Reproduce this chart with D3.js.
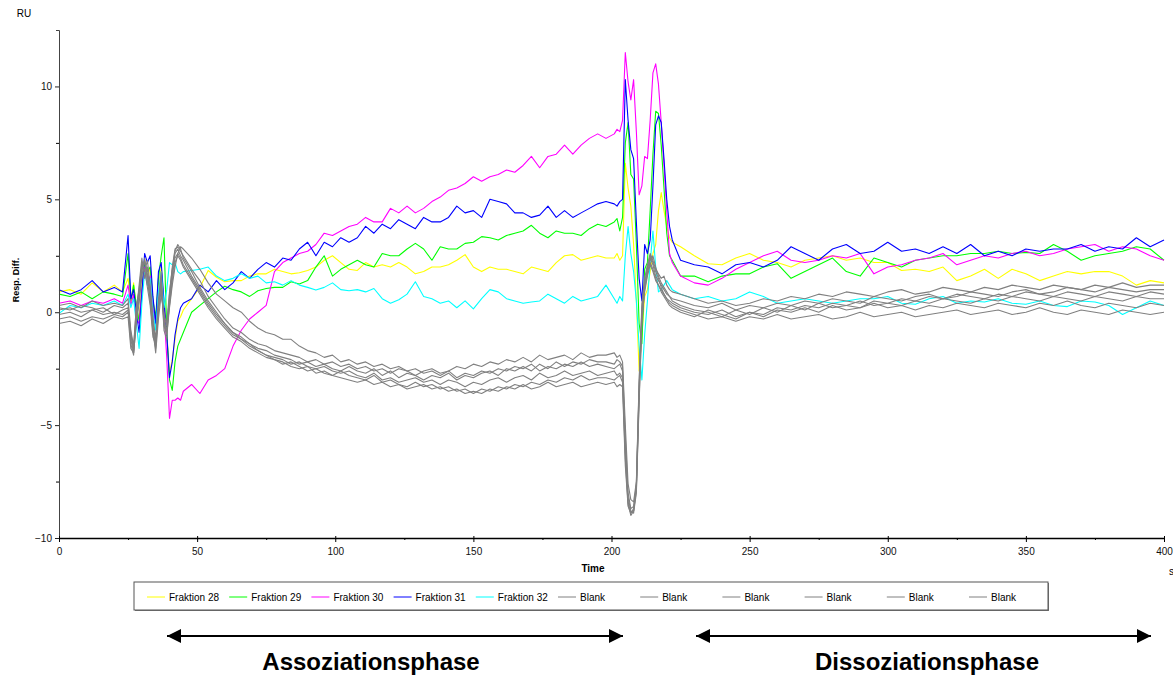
<!DOCTYPE html>
<html>
<head>
<meta charset="utf-8">
<script src="https://cdn.jsdelivr.net/npm/d3@7"></script>
<style>
  body { margin:0; background:#fff; }
  text { font-family: "Liberation Sans", Arial, sans-serif; }
</style>
</head>
<body>
<script>
// sensorgram, RU vs time (s)

var time = [0,4,8,12,16,20,23,
  25,26,27,28,29,30,31,32,33,34,35,36,37,38,39,40,41,42,43,44,45,
  48,51,54,57,60,63,66,69,72,75, 78,81,84,87,90,93,96,99,102,105,
  108,111,114,117,120,123,126,129,132,135, 138,141,144,147,150,153,156,159,162,165,
  168,171,174,177,180,183,186,189,192,195, 198,
  201,202,203,204,205,206,207,208,209,210,211,212,213,214,215,216,217,218,219,220,221,222,
  225,230,235,240,245,250,255,260,265,270, 275,280,285,290,295,300,305,310,315,320,
  325,330,335,340,345,350,355,360,365,370, 375,380,385,390,395,400];

var fraktion28 = [0.9,1.0,0.8,1.3,0.9,1.2,0.9,
  1.5,0.4,1.3,0.2,-0.3,1.2,2.3,1.5,2.0,0.4,-0.3,1.2,2.0,0.5,-1.0,-2.7,-2.1,-1.2,-0.4,-0.2,0.1,
  0.6,1.1,1.85,1.55,1.35,1.4,1.4,1.6,1.7,1.7, 1.9,1.8,1.7,1.75,1.85,2.0,2.3,2.5,2.2,1.9,
  1.85,2.2,2.0,2.1,2.0,2.2,2.0,1.7,1.8,2.0, 2.0,2.1,2.3,2.55,2.0,1.8,2.0,1.9,1.9,1.8,
  1.7,2.0,1.9,1.8,2.2,2.5,2.55,2.3,2.4,2.5, 2.4,
  2.4,2.6,2.3,2.5,6.6,5.5,4.7,3.0,0.5,-2.6,-1.0,0.7,1.0,1.8,2.6,3.0,4.5,5.3,4.5,3.8,3.3,3.1,
  2.9,2.5,2.15,2.1,2.4,2.6,2.3,2.2,2.0,2.3, 2.4,2.5,2.3,2.4,2.2,2.2,1.85,1.9,1.8,2.0,
  1.4,1.6,1.9,1.5,1.9,1.7,1.4,1.6,1.8,1.7, 1.8,1.8,1.6,1.2,1.4,1.3];

var fraktion29 = [0.8,0.7,0.9,0.6,0.9,0.8,0.7,
  2.6,0.5,1.2,0.3,-0.4,0.9,2.2,1.8,2.0,0.5,-0.2,1.5,2.5,3.3,-0.8,-3.0,-3.46,-2.2,-1.5,-1.2,-0.9,
  0.0,0.3,0.6,0.9,1.15,1.0,0.9,0.7,0.95,1.05, 1.1,1.1,1.35,1.25,1.4,2.0,2.5,1.6,1.9,2.1,
  2.3,2.1,2.0,2.6,2.5,2.5,2.8,3.05,2.8,2.3, 2.9,2.8,2.8,3.05,3.1,3.35,3.3,3.2,3.4,3.5,
  3.6,3.85,3.5,3.3,3.6,3.5,3.5,3.4,3.7,3.9, 3.8,
  4.0,4.15,3.6,4.2,7.5,8.4,6.1,5.9,3.0,-0.5,-1.4,1.9,2.2,4.5,7.0,8.9,8.8,7.4,5.5,3.5,2.5,2.3,
  1.6,1.6,1.35,1.6,1.7,1.7,2.0,2.15,1.5,1.8, 2.1,2.4,1.8,1.6,2.4,2.2,2.0,2.3,2.4,2.5,
  2.5,2.6,2.6,2.7,2.6,2.65,2.6,3.0,2.7,2.3, 2.5,2.6,2.7,2.9,2.8,2.3];

var fraktion30 = [0.4,0.5,0.3,0.5,0.4,0.6,0.4,
  1.2,0.3,0.8,-0.3,-0.5,1.0,2.0,1.2,1.6,0.2,-0.6,0.8,1.5,0.0,-2.0,-4.7,-3.9,-3.9,-3.8,-3.9,-3.5,
  -3.2,-3.6,-3.0,-2.8,-2.5,-1.5,-0.8,-0.3,0.0,0.3, 1.8,2.2,2.4,2.6,2.7,3.0,3.5,3.4,3.6,3.8,
  3.9,4.2,4.0,4.0,4.6,4.4,4.7,4.4,4.6,4.9, 5.1,5.4,5.5,5.7,6.0,5.8,6.0,6.1,6.3,6.2,
  6.5,6.9,6.4,6.9,7.0,7.4,7.0,7.4,7.7,7.9, 7.7,
  7.9,8.1,8.0,8.5,11.5,10.2,9.4,10.3,8.0,5.2,5.6,6.9,6.8,8.5,10.6,11.0,10.1,8.4,6.5,4.5,2.6,2.2,
  1.6,1.3,1.2,1.5,1.9,2.2,2.5,2.7,2.3,2.2, 2.3,2.5,2.4,2.6,1.7,2.0,2.1,2.3,2.4,2.6,
  2.1,2.3,2.5,2.4,2.6,2.7,2.5,2.6,2.8,2.9, 3.0,2.7,2.9,2.8,2.5,2.3];

var fraktion31 = [1.0,0.8,1.0,1.4,0.9,1.1,0.9,
  3.4,0.6,1.0,0.0,-0.9,0.8,2.6,2.2,2.5,0.7,-0.5,1.8,2.2,0.5,-1.0,-2.9,-2.2,-1.0,-0.3,0.2,0.4,
  0.6,1.2,0.9,1.4,1.0,1.3,1.8,1.5,1.9,2.2, 2.0,2.4,2.3,2.8,3.1,2.5,3.1,2.9,3.3,3.1,
  3.3,3.8,3.5,3.9,3.7,4.1,3.9,3.7,4.2,4.0, 4.0,4.2,4.7,4.4,4.5,4.2,5.0,4.9,4.8,4.4,
  4.4,4.2,4.3,4.7,4.2,4.5,4.2,4.4,4.6,4.8, 4.9,
  4.8,4.7,4.9,5.0,10.3,8.5,7.2,6.8,4.0,1.5,0.5,3.0,2.6,3.2,5.6,8.3,8.7,8.4,6.8,5.0,3.8,3.2,
  2.3,2.1,2.0,1.7,2.1,2.2,2.0,2.3,2.9,2.6, 2.3,2.8,3.0,2.6,2.7,3.1,2.7,2.8,2.6,2.9,
  2.6,3.0,2.5,2.7,2.5,2.8,2.7,2.8,2.8,3.0, 2.7,2.9,2.8,3.3,2.9,3.2];

var fraktion32 = [-0.05,0.3,0.2,0.4,0.3,0.5,0.3,
  0.8,0.2,0.6,-0.5,-1.6,0.4,1.8,1.2,1.5,0.0,-0.8,0.9,1.8,0.2,1.0,2.2,2.1,2.2,1.8,1.7,1.8,
  1.85,1.9,2.0,1.6,1.4,1.5,1.7,1.5,1.6,1.3, 1.35,1.2,1.4,1.2,1.1,0.98,1.1,1.3,1.0,0.95,
  1.0,0.9,1.05,0.6,0.4,0.55,0.8,1.35,0.7,0.6, 0.4,0.5,0.2,0.5,0.15,0.6,1.0,0.9,0.6,0.5,
  0.4,0.45,0.5,0.8,0.6,0.4,0.7,0.5,0.6,0.7, 1.2,
  0.6,0.4,0.7,0.5,2.5,3.8,2.6,1.8,0.5,-1.5,-3.0,-1.0,0.5,2.2,3.6,2.0,0.9,1.0,1.2,1.4,1.2,1.0,
  0.8,0.6,0.7,0.5,0.6,0.9,0.7,0.4,0.5,0.6, 0.5,0.4,0.5,0.6,0.6,0.7,0.4,0.35,0.6,0.7,
  0.4,0.5,0.45,0.6,0.4,0.35,0.5,0.3,0.25,0.5, 0.45,0.3,-0.1,0.2,0.5,0.3];

var blank1 = [0.3,0.4,0.2,0.5,0.3,0.4,0.3,
  0.6,-0.8,-1.5,0.3,1.0,2.2,1.8,2.3,1.2,-0.2,-1.2,0.5,1.8,-0.5,-0.9,0.8,2.0,2.8,2.9,2.7,2.5,
  1.9,1.4,0.7,0.2,-0.3,-0.7,-0.9,-1.2,-1.4,-1.5, -1.7,-1.8,-1.9,-2.0,-2.2,-2.1,-2.3,-2.2,-2.4,-2.3,
  -2.5,-2.4,-2.6,-2.5,-2.7,-2.5,-2.6,-2.8,-2.6,-2.5, -2.7,-2.6,-2.4,-2.5,-2.3,-2.4,-2.2,-2.3,-2.1,-2.2,
  -2.0,-2.2,-1.9,-2.1,-2.0,-1.9,-2.1,-1.8,-2.0,-1.9, -1.9,
  -1.8,-2.0,-1.9,-2.2,-5.0,-7.6,-8.3,-8.4,-7.5,-3.0,0.4,1.5,2.1,2.6,2.3,1.9,1.7,1.5,1.6,1.2,1.0,0.9,
  0.8,0.6,0.4,0.5,0.3,0.4,0.6,0.5,0.7,0.6, 0.8,0.7,0.9,0.8,0.7,0.9,1.0,0.8,0.9,1.1,
  1.0,0.9,1.1,1.0,1.2,1.1,1.0,1.2,1.1,1.0, 1.2,1.1,1.3,1.1,1.2,1.2];

var blank2 = [0.2,0.1,0.3,0.2,0.0,0.3,0.2,
  0.4,-1.2,-1.8,0.0,1.2,2.4,1.5,2.0,0.8,-0.6,-1.5,0.2,1.5,-0.8,-1.2,0.5,1.8,2.6,2.8,2.5,2.3,
  1.6,1.0,0.4,-0.1,-0.5,-0.9,-1.1,-1.4,-1.6,-1.7, -1.9,-2.0,-2.1,-2.3,-2.2,-2.4,-2.3,-2.5,-2.6,-2.4,
  -2.6,-2.7,-2.5,-2.8,-2.6,-2.9,-2.7,-2.8,-3.0,-2.8, -2.9,-2.7,-3.0,-2.8,-2.9,-2.7,-2.6,-2.8,-2.5,-2.6,
  -2.4,-2.6,-2.3,-2.5,-2.2,-2.4,-2.2,-2.3,-2.1,-2.2, -2.2,
  -2.3,-2.1,-2.2,-2.4,-5.5,-8.0,-8.7,-8.6,-7.8,-3.5,0.0,1.2,1.9,2.4,2.1,1.6,1.4,1.2,1.0,0.8,0.7,0.6,
  0.5,0.3,0.2,0.4,0.1,0.3,0.2,0.4,0.3,0.5, 0.4,0.6,0.5,0.4,0.7,0.6,0.5,0.7,0.8,0.6,
  0.7,0.9,0.8,0.7,0.9,1.0,0.8,0.9,1.1,1.0, 0.9,1.1,1.0,0.9,1.0,1.0];

var blank3 = [0.1,0.2,0.0,0.1,0.2,-0.1,0.1,
  0.2,-0.9,-1.6,0.2,0.9,2.0,2.2,1.7,1.0,-0.4,-1.3,0.4,1.2,-0.6,-1.0,0.2,1.2,2.0,2.6,2.9,2.8,
  2.4,1.9,1.3,0.8,0.5,0.2,0.0,-0.4,-0.7,-0.9, -1.0,-1.2,-1.2,-1.5,-1.7,-1.8,-2.0,-1.9,-2.2,-2.1,
  -2.3,-2.2,-2.4,-2.3,-2.5,-2.4,-2.6,-2.5,-2.7,-2.6, -2.8,-2.6,-2.9,-2.7,-2.8,-2.6,-2.7,-2.5,-2.6,-2.4,
  -2.5,-2.3,-2.6,-2.4,-2.5,-2.3,-2.4,-2.2,-2.4,-2.3, -2.4,
  -2.5,-2.4,-2.3,-2.6,-6.0,-8.2,-8.8,-8.9,-8.0,-4.0,-0.5,1.0,1.7,2.3,2.5,2.0,1.6,1.3,1.1,0.9,0.7,0.5,
  0.3,0.1,0.0,-0.2,0.1,-0.1,0.2,0.0,0.3,0.1, 0.4,0.2,0.3,0.5,0.3,0.4,0.6,0.5,0.7,0.6,
  0.8,0.7,0.6,0.8,0.7,0.9,0.8,0.7,0.9,0.8, 0.7,0.9,0.8,0.7,0.9,0.8];

var blank4 = [-0.1,0.0,-0.2,0.1,-0.1,0.0,-0.1,
  0.1,-1.4,-1.9,-0.3,0.6,1.8,2.4,1.4,0.5,-0.9,-1.6,0.0,1.0,-0.2,-0.6,0.6,1.6,2.4,2.6,2.4,2.1,
  1.5,0.9,0.3,-0.2,-0.6,-1.0,-1.2,-1.5,-1.7,-1.9, -2.0,-2.1,-2.3,-2.2,-2.4,-2.5,-2.4,-2.6,-2.7,-2.6,
  -2.8,-2.9,-2.7,-3.0,-2.9,-3.1,-3.0,-2.9,-3.1,-3.0, -3.2,-3.0,-3.1,-3.3,-3.1,-3.2,-3.0,-2.9,-3.1,-2.9,
  -2.8,-3.0,-2.7,-2.9,-2.8,-2.6,-2.8,-2.7,-2.6,-2.8, -2.7,
  -2.6,-2.8,-2.7,-2.9,-6.2,-8.4,-8.9,-8.8,-7.9,-3.8,-0.3,0.9,1.6,2.1,1.8,1.4,1.2,1.0,0.8,0.6,0.5,0.4,
  0.2,0.0,-0.1,0.1,-0.2,0.0,-0.1,0.2,0.1,0.3, 0.2,0.4,0.3,0.2,0.5,0.4,0.3,0.5,0.4,0.6,
  0.5,0.4,0.6,0.5,0.7,0.6,0.5,0.7,0.6,0.5, 0.7,0.6,0.5,0.7,0.6,0.6];

var blank5 = [-0.3,-0.2,-0.4,-0.2,-0.3,-0.1,-0.2,
  0.0,-1.0,-1.7,-0.1,0.8,2.1,1.9,1.1,0.3,-1.1,-1.4,0.3,1.3,-0.4,-0.8,0.3,1.4,2.2,2.5,2.3,2.0,
  1.4,0.8,0.2,-0.3,-0.7,-1.1,-1.3,-1.6,-1.8,-2.0, -2.1,-2.3,-2.2,-2.4,-2.6,-2.5,-2.7,-2.8,-2.6,-2.8,
  -2.9,-3.0,-2.8,-3.1,-3.0,-3.2,-3.3,-3.1,-3.3,-3.2, -3.4,-3.3,-3.5,-3.4,-3.6,-3.4,-3.5,-3.3,-3.4,-3.2,
  -3.3,-3.1,-3.2,-3.0,-3.1,-2.9,-3.0,-2.8,-3.0,-2.9, -2.9,
  -3.0,-2.9,-2.8,-3.1,-6.5,-8.5,-9.0,-8.8,-7.7,-3.4,-0.2,1.1,1.8,2.2,1.9,1.5,1.2,0.9,0.7,0.5,0.3,0.2,
  0.0,-0.2,0.1,-0.1,-0.3,0.0,-0.2,0.1,0.0,0.2, 0.0,0.3,0.1,0.2,0.4,0.2,0.3,0.1,0.3,0.2,
  0.4,0.3,0.2,0.4,0.3,0.2,0.4,0.3,0.5,0.3, 0.2,0.4,0.3,0.2,0.4,0.3];

var blank6 = [-0.5,-0.4,-0.6,-0.3,-0.5,-0.2,-0.3,
  -0.2,-1.6,-1.8,-0.5,0.4,1.6,2.3,1.6,0.6,-0.8,-1.8,-0.3,0.8,-0.1,-0.5,0.9,1.9,2.7,3.0,2.8,2.4,
  1.8,1.1,0.5,0.0,-0.5,-0.9,-1.2,-1.4,-1.7,-1.9, -2.1,-2.2,-2.4,-2.5,-2.4,-2.7,-2.6,-2.8,-2.9,-3.0,
  -3.1,-3.0,-3.2,-3.1,-3.3,-3.2,-3.4,-3.3,-3.2,-3.4, -3.3,-3.5,-3.4,-3.6,-3.5,-3.6,-3.4,-3.5,-3.3,-3.4,
  -3.2,-3.4,-3.3,-3.1,-3.3,-3.2,-3.1,-3.3,-3.2,-3.1, -3.2,
  -3.1,-3.3,-3.2,-3.3,-6.8,-8.6,-8.9,-8.7,-7.6,-3.2,0.2,1.3,2.0,2.5,2.2,1.8,1.5,1.1,0.8,0.6,0.4,0.3,
  0.1,-0.1,-0.3,-0.2,-0.4,-0.2,-0.3,-0.1,-0.3,-0.2, -0.1,-0.3,-0.2,0.0,-0.2,-0.1,0.0,-0.2,-0.1,0.0,
  0.1,-0.1,0.0,0.1,-0.1,0.0,0.2,0.0,-0.1,0.1, 0.0,-0.1,0.1,0.0,-0.1,0.0];

var seriesNames = ['Fraktion 28','Fraktion 29','Fraktion 30','Fraktion 31','Fraktion 32',
  'Blank','Blank','Blank','Blank','Blank','Blank'];
var seriesValues = [fraktion28, fraktion29, fraktion30, fraktion31, fraktion32,
  blank1, blank2, blank3, blank4, blank5, blank6];
var seriesColors = ['#ffff00','#00ff00','#ff00ff','#0000ff','#00ffff',
  '#808080','#808080','#808080','#808080','#808080','#808080'];

var xTicks = [0,50,100,150,200,250,300,350,400];
var xMinor = [25,75,125,175,225,275,325,375];
var yTicks = [-10,-5,0,5,10];
var yMinor = [-7.5,-2.5,2.5,7.5];

var W = 1173, H = 677;
var svg = d3.select('body').append('svg').attr('width',W).attr('height',H);

var x = d3.scaleLinear().domain([0,400]).range([59,1164]);
var y = d3.scaleLinear().domain([-10,12.5]).range([538,30]);

// series
var line = d3.line().x(function(d){return x(d[0])}).y(function(d){return y(d[1])});
var plot = svg.append('g').attr('class','plot');
seriesValues.forEach(function(vals,i){
  if (vals.length !== time.length) console.warn(seriesNames[i], vals.length, time.length);
  var pts = vals.map(function(v,j){return [time[j], v]}).filter(function(d){return d[0]!==undefined});
  plot.append('path').datum(pts)
    .attr('d',line).attr('fill','none')
    .attr('stroke',seriesColors[i]).attr('stroke-width',1.1)
    .attr('stroke-linejoin','round');
});

// y axis
var yAxis = svg.append('g').attr('transform','translate(59,0)')
  .call(d3.axisLeft(y).tickValues(yTicks).tickSizeInner(4).tickSizeOuter(3).tickPadding(3));
yAxis.select('.domain').attr('stroke','#444');
yAxis.selectAll('.tick line').attr('stroke','#222');
yAxis.selectAll('text').style('font-size','10px').attr('fill','#111');
svg.append('g').attr('transform','translate(59,0)')
  .call(d3.axisLeft(y).tickValues(yMinor).tickSize(3).tickFormat(''))
  .select('.domain').remove();

// x axis
var xAxis = svg.append('g').attr('transform','translate(0,538)')
  .call(d3.axisBottom(x).tickValues(xTicks).tickSizeInner(4).tickSizeOuter(0).tickPadding(6));
xAxis.select('.domain').attr('stroke','#000').attr('stroke-width',1.3);
xAxis.selectAll('.tick line').attr('y1',-2);
xAxis.selectAll('text').style('font-size','10px').attr('fill','#111');
svg.append('g').attr('transform','translate(0,538)')
  .call(d3.axisBottom(x).tickValues(xMinor).tickSize(2).tickFormat(''))
  .select('.domain').remove();

// axis labels
svg.append('text').attr('x',24).attr('y',17).attr('text-anchor','middle')
  .style('font-size','10px').text('RU');
svg.append('text').attr('transform','translate(19,280) rotate(-90)')
  .attr('text-anchor','middle').style('font-size','9px').style('font-weight','bold')
  .text('Resp. Diff.');
svg.append('text').attr('x',593).attr('y',572).attr('text-anchor','middle')
  .style('font-size','10px').style('font-weight','bold').text('Time');
svg.append('text').attr('x',1169).attr('y',575)
  .style('font-size','10px').text('s');

// legend
var legend = svg.append('g');
legend.append('rect').attr('x',135).attr('y',583).attr('width',914).attr('height',28)
  .attr('fill','#777');
legend.append('rect').attr('x',134).attr('y',582).attr('width',914).attr('height',28)
  .attr('fill','#fff').attr('stroke','#555').attr('stroke-width',1);
var items = legend.selectAll('.item').data(seriesNames).enter().append('g')
  .attr('class','item')
  .attr('transform',function(d,i){return 'translate('+(147+i*82.2)+',597)'});
items.append('line').attr('x1',0).attr('x2',18).attr('y1',0).attr('y2',0)
  .attr('stroke',function(d,i){return seriesColors[i]}).attr('stroke-width',1);
items.append('text').attr('x',22).attr('y',3.5).style('font-size','10px')
  .text(function(d){return d});

// phase arrows
var defs = svg.append('defs');
defs.append('marker').attr('id','head').attr('viewBox','0 0 10 10')
  .attr('refX',10).attr('refY',5).attr('markerWidth',7).attr('markerHeight',7)
  .attr('markerUnits','strokeWidth').attr('orient','auto-start-reverse')
  .append('path').attr('d','M0,0 L10,5 L0,10 Z').attr('fill','#000');

var phases = [
  {name:'Assoziationsphase', from:167, to:623, label:371},
  {name:'Dissoziationsphase', from:696, to:1151, label:927}
];
phases.forEach(function(p){
  svg.append('line').attr('x1',p.from).attr('x2',p.to).attr('y1',636).attr('y2',636)
    .attr('stroke','#000').attr('stroke-width',2)
    .attr('marker-start','url(#head)').attr('marker-end','url(#head)');
  svg.append('text').attr('x',p.label).attr('y',670).attr('text-anchor','middle')
    .style('font-size','24px').style('font-weight','bold').text(p.name);
});
</script>
</body>
</html>
